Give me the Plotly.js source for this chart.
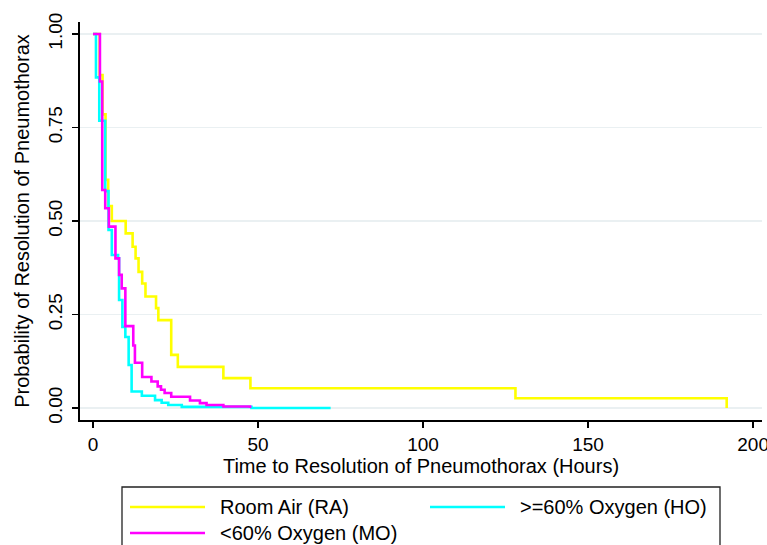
<!DOCTYPE html>
<html>
<head>
<meta charset="utf-8">
<script src="https://cdn.plot.ly/plotly-3.0.1.min.js"></script>
<style>html,body{margin:0;padding:0;background:#fff;}#chart{width:767px;height:545px;}</style>
</head>
<body>
<div id="chart"></div>
<script>
// Kaplan-Meier step data (time in hours, probability)
var raTime = [0, 2.0, 2.9, 3.8, 4.6, 5.7, 9.9, 12.0, 12.9, 13.8, 14.9, 15.9, 19.1, 19.8, 23.7, 25.7, 39.5, 47.7, 128, 192];
var raSurv = [1, 0.89, 0.785, 0.61, 0.54, 0.50, 0.467, 0.431, 0.40, 0.364, 0.333, 0.298, 0.267, 0.235, 0.142, 0.110, 0.080, 0.053, 0.026, 0];

var hoTime = [0, 0.9, 1.9, 3.7, 4.7, 5.7, 7.6, 7.9, 8.9, 9.8, 10.8, 11.7, 14.8, 18.8, 20.8, 22.8, 26.9, 48, 72];
var hoSurv = [1, 0.884, 0.768, 0.58, 0.476, 0.409, 0.40, 0.289, 0.217, 0.19, 0.115, 0.044, 0.033, 0.021, 0.014, 0.008, 0.003, 0, 0];

var moTime = [0, 2.1, 2.8, 3.7, 4.8, 6.8, 7.9, 8.7, 9.8, 12.2, 12.7, 14.9, 17.7, 19.6, 20.6, 21.7, 23.7, 29.4, 32.4, 34.4, 39.5, 47.6];
var moSurv = [1, 0.873, 0.583, 0.534, 0.485, 0.40, 0.356, 0.32, 0.219, 0.167, 0.121, 0.083, 0.071, 0.058, 0.049, 0.04, 0.03, 0.02, 0.013, 0.008, 0.004, 0];

var seriesNames = ["Room Air (RA)", "&gt;=60% Oxygen (HO)", "&lt;60% Oxygen (MO)"];
var seriesColors = ["#ffff00", "#00ffff", "#ff00ff"];

var xTickVals = [0, 50, 100, 150, 200];
var yTickVals = [0, 0.25, 0.5, 0.75, 1];
var yTickText = ["0.00", "0.25", "0.50", "0.75", "1.00"];

var FONT = "Liberation Sans, Arial, Helvetica, sans-serif";

function mk(x, y, i) {
  return {
    x: x, y: y, type: "scatter", mode: "lines",
    line: {shape: "hv", color: seriesColors[i], width: 2.6},
    name: seriesNames[i], hoverinfo: "skip", showlegend: false
  };
}

var data = [mk(raTime, raSurv, 0), mk(hoTime, hoSurv, 1), mk(moTime, moSurv, 2)];

// legend box laid out in paper coordinates (plot area: x 80..762px, y 22..420px)
var W = 682, H = 398, L = 80, B = 420;
function px(x) { return (x - L) / W; }
function py(y) { return (B - y) / H; }
var legendSlots = [
  {lx0: 130, lx1: 205, tx: 218, y: 507},
  {lx0: 430, lx1: 505, tx: 518, y: 507},
  {lx0: 130, lx1: 205, tx: 218, y: 533}
];
var shapes = [{
  type: "rect", xref: "paper", yref: "paper",
  x0: px(122), x1: px(720), y0: py(487), y1: py(575),
  line: {color: "#222", width: 1.3}, fillcolor: "rgba(0,0,0,0)"
}];
var annotations = [];
legendSlots.forEach(function (s, i) {
  shapes.push({type: "line", xref: "paper", yref: "paper",
    x0: px(s.lx0), x1: px(s.lx1), y0: py(s.y), y1: py(s.y),
    line: {color: seriesColors[i], width: 2.6}});
  annotations.push({xref: "paper", yref: "paper", x: px(s.tx), y: py(s.y),
    xanchor: "left", yanchor: "middle", showarrow: false, text: seriesNames[i],
    font: {family: FONT, size: 20, color: "#000"}});
});

var layout = {
  width: 767, height: 545,
  margin: {l: 80, r: 5, t: 22, b: 125, pad: 0},
  paper_bgcolor: "#ffffff", plot_bgcolor: "#ffffff",
  font: {family: FONT, color: "#000000", size: 19},
  showlegend: false,
  shapes: shapes,
  annotations: annotations,
  xaxis: {
    range: [-3.94, 202.7], tickvals: xTickVals, ticks: "outside", ticklen: 6, tickwidth: 1.6,
    tickcolor: "#000", showline: true, linecolor: "#000", linewidth: 1.8, showgrid: false,
    zeroline: false, tickfont: {family: FONT, size: 19, color: "#000"},
    ticklabeloverflow: "allow",
    title: {text: "Time to Resolution of Pneumothorax (Hours)", font: {family: FONT, size: 20, color: "#000"}, standoff: 4},
    automargin: false
  },
  yaxis: {
    range: [-0.032, 1.032], tickvals: yTickVals, ticktext: yTickText, tickangle: -90,
    ticks: "outside", ticklen: 6, tickwidth: 1.6, tickcolor: "#000",
    showline: true, linecolor: "#000", linewidth: 1.8,
    showgrid: true, gridcolor: "#eaf0f2", gridwidth: 1.5, zeroline: false,
    tickfont: {family: FONT, size: 19, color: "#000"}, ticklabelstandoff: 3,
    title: {text: "Probability of Resolution of Pneumothorax", font: {family: FONT, size: 20, color: "#000"}, standoff: 9},
    automargin: false
  }
};

Plotly.newPlot("chart", data, layout, {staticPlot: true, displayModeBar: false});
</script>
</body>
</html>
